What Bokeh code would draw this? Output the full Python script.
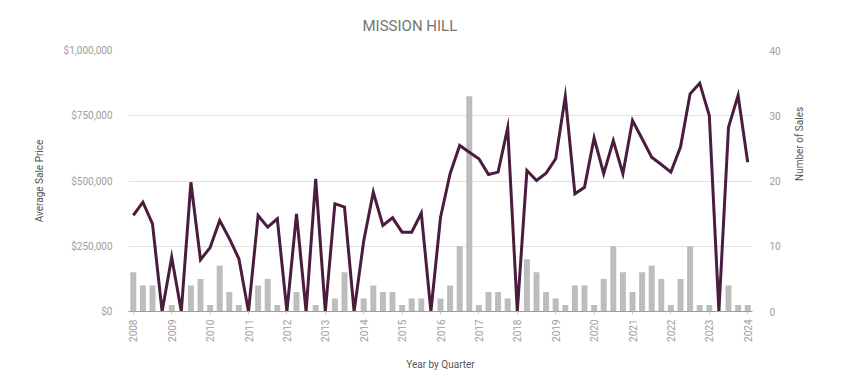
import numpy as np
from bokeh.plotting import figure
from bokeh.models import (Range1d, LinearAxis, FixedTicker, NumeralTickFormatter,
                          ColumnDataSource)
from bokeh.embed import file_html
from bokeh.resources import INLINE

# Year labels shown at the first quarter of each year
tick_years = ["2008", "2009", "2010", "2011", "2012", "2013", "2014", "2015", "2016",
              "2017", "2018", "2019", "2020", "2021", "2022", "2023", "2024"]

# Quarterly average sale price, 2008 Q1 .. 2024 Q1
avg_price = [368000, 419000, 336000, 0, 208000, 0, 495000, 198000,
             245000, 349000, 280000, 202000, 0, 368000, 323000, 355000,
             0, 374000, 0, 508000, 0, 413000, 400000, 0,
             270000, 457000, 330000, 359000, 304000, 304000, 377000, 0,
             360000, 528000, 636000, 610000, 585000, 525000, 534000, 704000,
             0, 540000, 502000, 530000, 585000, 824000, 451000, 476000,
             665000, 528000, 655000, 528000, 732000, 662000, 591000, 563000,
             534000, 630000, 834000, 875000, 751000, 0, 706000, 828000,
             572000]

# Quarterly number of sales
num_sales = [6, 4, 4, 0, 1, 0, 4, 5,
             1, 7, 3, 1, 0, 4, 5, 1,
             0, 3, 0, 1, 0, 2, 6, 0,
             2, 4, 3, 3, 1, 2, 2, 0,
             2, 4, 10, 33, 1, 3, 3, 2,
             0, 8, 6, 3, 2, 1, 4, 4,
             1, 5, 10, 6, 3, 6, 7, 5,
             1, 5, 10, 1, 1, 0, 4, 1,
             1]

FONT = "Roboto"
n = len(avg_price)
qx = np.arange(n)
src = ColumnDataSource(dict(x=qx, price=avg_price, sales=num_sales))

p = figure(width=844, height=375, output_backend="svg", toolbar_location=None,
           x_range=Range1d(-0.5, n - 0.5), y_range=Range1d(0, 1_000_000),
           min_border_left=128, min_border_right=92, min_border_top=50,
           min_border_bottom=64, outline_line_color=None, background_fill_color="white")

p.title.text = "MISSION HILL"
p.title.align = "left"
p.title.offset = 234
p.title.vertical_align = "top"
p.title.text_font = FONT
p.title.text_font_size = "15px"
p.title.text_font_style = "normal"
p.title.text_color = "#757575"
p.title.standoff = 28

p.extra_y_ranges = {"count": Range1d(0, 40)}

# bars: number of sales on the right scale
p.vbar(x="x", top="sales", width=0.62, source=src, y_range_name="count",
       fill_color="#bdbdbd", line_color=None)

# line: average sale price on the left scale
p.line(x="x", y="price", source=src, line_color="#4a1c3e", line_width=3,
       line_join="miter")

# x axis: one labelled tick per year
xa = p.xaxis[0]
year_ticks = list(range(0, n, 4))
xa.ticker = FixedTicker(ticks=year_ticks)
xa.major_label_overrides = {t: lab for t, lab in zip(year_ticks, tick_years)}
xa.major_label_orientation = np.pi / 2
xa.axis_label = "Year by Quarter"
xa.axis_line_color = "#9e9e9e"
xa.major_tick_line_color = "#cccccc"
xa.major_tick_out = 3
xa.major_tick_in = 0
xa.minor_tick_line_color = None
xa.major_label_standoff = 5

# left axis: price
ya = p.yaxis[0]
ya.ticker = FixedTicker(ticks=[0, 250000, 500000, 750000, 1000000])
ya.formatter = NumeralTickFormatter(format="$0,0")
ya.axis_label = "Average Sale Price"
ya.axis_line_color = None
ya.major_tick_line_color = None
ya.minor_tick_line_color = None
ya.major_label_standoff = 10

# right axis: sales count, label reading upwards
ra = LinearAxis(y_range_name="count", ticker=FixedTicker(ticks=[0, 10, 20, 30, 40]),
                axis_label="Number of Sales")
ra.axis_label_orientation = np.pi / 2
ra.axis_line_color = None
ra.major_tick_line_color = None
ra.minor_tick_line_color = None
ra.major_label_standoff = 11
p.add_layout(ra, "right")

for ax in (xa, ya, ra):
    ax.major_label_text_font = FONT
    ax.major_label_text_font_size = "10px"
    ax.major_label_text_color = "#9e9e9e"
    ax.axis_label_text_font = FONT
    ax.axis_label_text_font_size = "10px"
    ax.axis_label_text_font_style = "normal"
    ax.axis_label_text_color = "#555555"
ya.axis_label_standoff = 16
ra.axis_label_standoff = 16
xa.axis_label_standoff = 14

p.xgrid.grid_line_color = None
p.ygrid.grid_line_color = "#e0e0e0"
p.ygrid.ticker = FixedTicker(ticks=[0, 250000, 500000, 750000, 1000000])

open("out.html", "w").write(file_html(p, INLINE))
